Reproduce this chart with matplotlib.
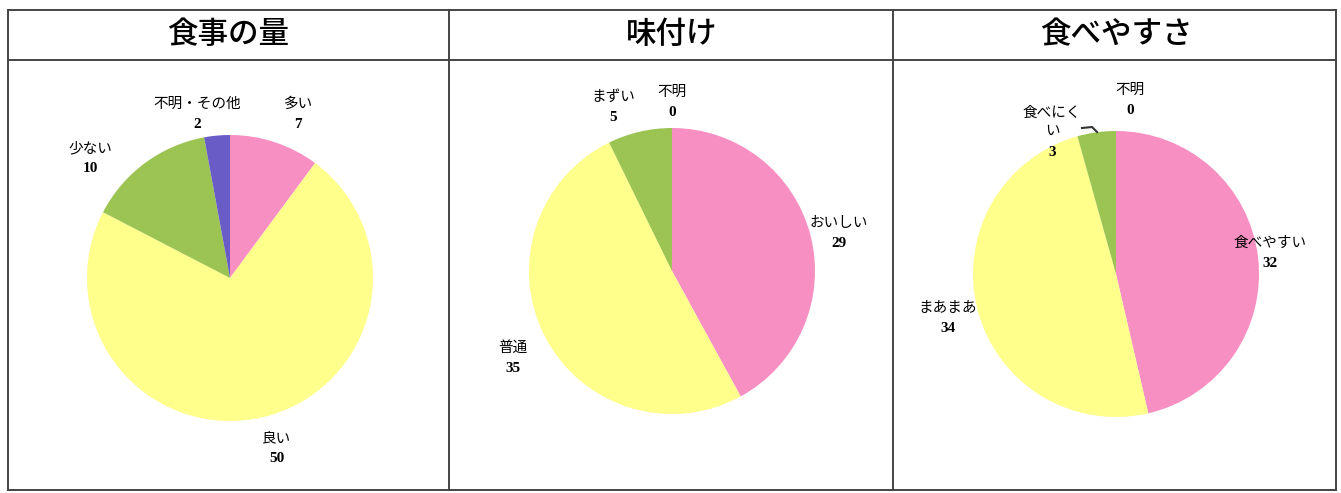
import matplotlib
matplotlib.use("Agg")
import matplotlib.pyplot as plt
from matplotlib.lines import Line2D

plt.rcParams['font.family'] = ['Noto Sans CJK JP', 'DejaVu Sans']

W, H = 1341, 493

# data
titles = ["食事の量", "味付け", "食べやすさ"]
amount_labels = ["多い", "良い", "少ない", "不明・その他"]
amount_values = [7, 50, 10, 2]
taste_labels = ["おいしい", "普通", "まずい", "不明"]
taste_values = [29, 35, 5, 0]
ease_labels = ["食べやすい", "まあまあ", "食べにく\nい", "不明"]
ease_values = [32, 34, 3, 0]

pink = "#f78fc2"
yellow = "#ffff8c"
green = "#9cc452"
purple = "#6a5cc6"
amount_colors = [pink, yellow, green, purple]
other_colors = [pink, yellow, green, purple]

# layout (pixel positions)
centers = [(230, 278), (672, 271), (1116, 274)]
radius = 143
title_x = [228, 672, 1116]
label_pos = [
    [(298, 104), (277, 438), (90, 148), (197, 104)],
    [(839, 223), (513, 348), (613, 97), (672, 92)],
    [(1270, 243), (948, 308), (1052, 122), (1130, 90)],
]

fig = plt.figure(figsize=(W / 100, H / 100), dpi=100)


def fx(x):
    return x / W


def fy(y):
    return 1 - y / H


def hline(x0, x1, y):
    fig.add_artist(Line2D([fx(x0), fx(x1)], [fy(y), fy(y)], color="#444444", lw=1.4))


def vline(x, y0, y1):
    fig.add_artist(Line2D([fx(x), fx(x)], [fy(y0), fy(y1)], color="#444444", lw=1.4))


# table frame
hline(8, 1336, 10)
hline(8, 1336, 60)
hline(8, 1336, 490)
for x in [8, 449, 893, 1336]:
    vline(x, 10, 490)

for i, t in enumerate(titles):
    fig.text(fx(title_x[i]), fy(35), t, ha="center", va="center", fontsize=22,
             fontweight="medium")

panels = [(amount_labels, amount_values, amount_colors),
          (taste_labels, taste_values, other_colors),
          (ease_labels, ease_values, other_colors)]

for i, (labels, values, colors) in enumerate(panels):
    cx, cy = centers[i]
    ax = fig.add_axes([fx(cx - radius), fy(cy + radius), 2 * radius / W, 2 * radius / H])
    ax.pie(values, colors=colors, startangle=90, counterclock=False,
           wedgeprops=dict(linewidth=0))
    ax.set_xlim(-1, 1)
    ax.set_ylim(-1, 1)
    ax.set_aspect("auto")
    ax.axis("off")
    for j, (lab, val) in enumerate(zip(labels, values)):
        lx, ly = label_pos[i][j]
        nlines = lab.count("\n") + 1
        fig.text(fx(lx), fy(ly), lab, ha="center", va="center", fontsize=10.5,
                 linespacing=1.4)
        fig.text(fx(lx), fy(ly + 10 + nlines * 10.5), str(val), ha="center", va="center",
                 fontsize=11, fontweight="bold", family="Liberation Serif")

# small leader line near 食べにくい
fig.add_artist(Line2D([fx(1082), fx(1092), fx(1097)], [fy(128), fy(127), fy(132)],
                      color="#333333", lw=1.5))

fig.savefig("out.png", dpi=100)
